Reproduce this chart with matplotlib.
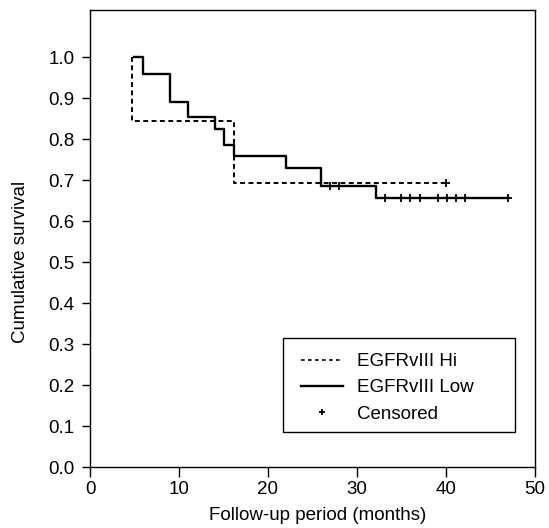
import matplotlib
matplotlib.use("Agg")
import matplotlib.pyplot as plt
from matplotlib.lines import Line2D
from matplotlib.patches import Rectangle
import numpy as np

# Kaplan-Meier estimates (months, cumulative survival)
hi_times = [4.7, 4.7, 16.2, 40.0]
hi_surv = [1.0, 0.843, 0.693, 0.693]
hi_censored = [40.0]

low_times = [4.9, 5.9, 9.0, 11.0, 14.1, 15.1, 16.2, 22.0, 26.0, 32.1, 47.0]
low_surv = [1.0, 0.959, 0.891, 0.855, 0.824, 0.786, 0.760, 0.729, 0.685, 0.656, 0.656]
low_censored = [27.0, 28.0, 33.1, 34.9, 36.0, 37.1, 39.1, 40.1, 41.1, 42.1, 47.0]

x_ticks = [0, 10, 20, 30, 40, 50]
y_ticks = [0.0, 0.1, 0.2, 0.3, 0.4, 0.5, 0.6, 0.7, 0.8, 0.9, 1.0]


def surv_at(times, surv, t):
    """Survival value of a post-step curve at time t."""
    idx = np.searchsorted(times, t, side="right") - 1
    return surv[max(idx, 0)]


plt.rcParams["font.family"] = ["Liberation Sans", "DejaVu Sans"]
fs = 13.5
W, H = 549, 528
ax_l, ax_r, ax_t, ax_b = 90, 535, 10, 467
aw, ah = ax_r - ax_l, ax_b - ax_t


def ax_x(px):
    return (px - ax_l) / aw


def ax_y(py):
    return (ax_b - py) / ah


fig = plt.figure(figsize=(W / 100, H / 100), dpi=100)
ax = fig.add_axes([ax_l / W, 1 - ax_b / H, aw / W, ah / H])

ax.step(hi_times, hi_surv, where="post", color="black", lw=1.4,
        linestyle=(0, (2.5, 1.8)))
ax.step(low_times, low_surv, where="post", color="black", lw=1.7)

ax.plot(hi_censored, [surv_at(hi_times, hi_surv, t) for t in hi_censored],
        linestyle="none", marker="+", ms=5.5, mew=1.3, color="black")
ax.plot(low_censored, [surv_at(low_times, low_surv, t) for t in low_censored],
        linestyle="none", marker="+", ms=5.5, mew=1.3, color="black")

ax.set_xlim(0, 50)
ax.set_ylim(0, 1.115)
ax.set_xticks(x_ticks)
ax.set_xticklabels([str(v) for v in x_ticks], fontsize=fs)
ax.set_yticks(y_ticks)
ax.set_yticklabels([f"{v:.1f}" for v in y_ticks], fontsize=fs)
ax.tick_params(axis="y", direction="out", length=6, width=1, pad=5)
ax.tick_params(axis="x", direction="out", length=7, width=1, pad=3)

for side in ["left", "bottom", "top", "right"]:
    ax.spines[side].set_linewidth(1.0)
    ax.spines[side].set_color("black")

ax.set_xlabel("Follow-up period (months)", fontsize=fs)
ax.xaxis.set_label_coords(ax_x(318), ax_y(507))
ax.set_ylabel("Cumulative survival", fontsize=fs)
ax.yaxis.set_label_coords(ax_x(29), 0.5 / 1.115)

# legend box, with the entries placed inside it
ax.add_patch(Rectangle((ax_x(283), ax_y(432)), ax_x(515) - ax_x(283),
                       ax_y(338) - ax_y(432), transform=ax.transAxes,
                       fill=False, edgecolor="black", lw=1.0, zorder=5))

handles = [
    Line2D([], [], color="black", lw=1.2, linestyle=(0, (2.2, 2.0))),
    Line2D([], [], color="black", lw=1.7),
    Line2D([], [], color="black", linestyle="none", marker="+", ms=5, mew=1.3),
]
ax.legend(handles, ["EGFRvIII Hi", "EGFRvIII Low", "Censored"],
          loc="upper left", bbox_to_anchor=(ax_x(301), ax_y(353)),
          borderaxespad=0, borderpad=0, fontsize=fs, frameon=False,
          handlelength=2.25, handletextpad=0.75, labelspacing=0.49)

fig.savefig("out.png", dpi=100)
